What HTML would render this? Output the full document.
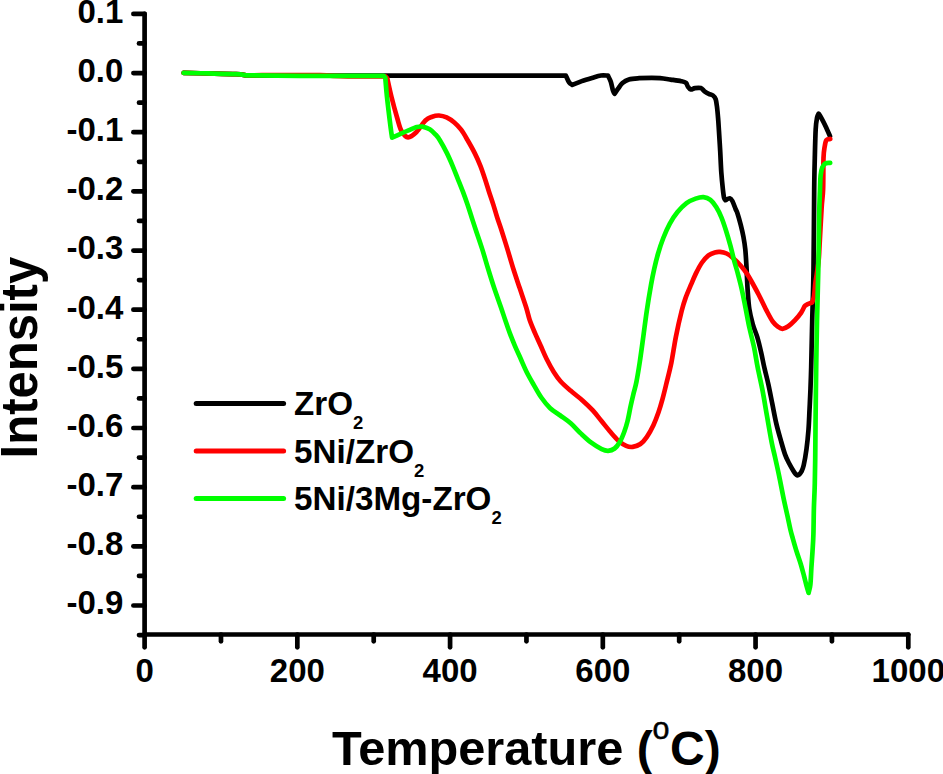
<!DOCTYPE html>
<html lang="en"><head><meta charset="utf-8"><title>TPR profile</title>
<style>
html,body{margin:0;padding:0;background:#fff;}
body{width:943px;height:774px;overflow:hidden;}
svg{display:block;}
</style></head><body>
<svg width="943" height="774" viewBox="0 0 943 774">
<rect width="943" height="774" fill="#fff"/>
<g fill="none" stroke-width="4.70" stroke-linecap="round" stroke-linejoin="round">
<path stroke="#000" d="M183.70,72.90 C187.75,72.98 199.28,73.18 208.00,73.40 C216.72,73.62 229.60,73.87 236.00,74.20 C242.40,74.53 244.67,75.20 246.40,75.40 C255.33,75.43 246.75,75.55 300.00,75.60 C353.25,75.65 521.58,75.68 565.90,75.70 C566.43,76.82 568.03,80.87 569.10,82.40 C570.17,83.93 571.77,84.48 572.30,84.90 C573.88,84.27 578.52,82.27 581.80,81.10 C585.08,79.93 588.82,78.83 592.00,77.90 C595.18,76.97 598.25,75.88 600.90,75.50 C603.55,75.12 606.73,75.58 607.90,75.60 C608.38,76.62 609.95,79.20 610.80,81.70 C611.65,84.20 612.37,88.58 613.00,90.60 C613.63,92.62 614.33,93.27 614.60,93.80 C615.18,92.95 616.78,90.50 618.10,88.70 C619.42,86.90 620.70,84.55 622.50,83.00 C624.30,81.45 626.13,80.20 628.90,79.40 C631.67,78.60 635.28,78.45 639.10,78.20 C642.92,77.95 648.32,77.90 651.80,77.90 C655.28,77.90 656.87,77.92 660.00,78.20 C663.13,78.48 667.07,79.10 670.60,79.60 C674.13,80.10 678.63,80.67 681.20,81.20 C683.77,81.73 684.90,81.92 686.00,82.80 C687.10,83.68 687.00,85.38 687.80,86.50 C688.60,87.62 689.60,89.23 690.80,89.50 C692.00,89.77 693.33,88.33 695.00,88.10 C696.67,87.87 699.22,87.57 700.80,88.10 C702.38,88.63 703.17,90.33 704.50,91.30 C705.83,92.27 707.38,93.20 708.80,93.90 C710.22,94.60 711.85,94.62 713.00,95.50 C714.15,96.38 715.02,97.17 715.70,99.20 C716.38,101.23 716.70,104.52 717.10,107.70 C717.50,110.88 717.80,114.58 718.10,118.30 C718.40,122.02 718.55,124.52 718.90,130.00 C719.25,135.48 719.80,144.13 720.20,151.20 C720.60,158.27 720.85,166.03 721.30,172.40 C721.75,178.77 722.43,185.15 722.90,189.40 C723.37,193.65 723.67,196.10 724.10,197.90 C724.53,199.70 725.27,199.82 725.50,200.20 C726.22,199.88 728.62,198.08 729.80,198.30 C730.98,198.52 731.63,199.72 732.60,201.50 C733.57,203.28 734.78,207.02 735.60,209.00 C736.42,210.98 736.63,210.72 737.50,213.40 C738.37,216.08 739.82,221.22 740.80,225.10 C741.78,228.98 742.65,232.62 743.40,236.70 C744.15,240.78 744.78,244.55 745.30,249.60 C745.82,254.65 746.12,260.37 746.50,267.00 C746.88,273.63 747.13,282.43 747.60,289.40 C748.07,296.37 748.43,302.98 749.30,308.80 C750.17,314.62 751.47,319.57 752.80,324.30 C754.13,329.03 755.90,332.47 757.30,337.20 C758.70,341.93 760.05,347.73 761.20,352.70 C762.35,357.67 763.00,361.72 764.20,367.00 C765.40,372.28 767.05,378.27 768.40,384.40 C769.75,390.53 771.00,397.35 772.30,403.80 C773.60,410.25 774.80,417.08 776.20,423.10 C777.60,429.12 779.22,434.65 780.70,439.90 C782.18,445.15 783.68,450.67 785.10,454.60 C786.52,458.53 787.83,460.82 789.20,463.50 C790.57,466.18 792.25,468.97 793.30,470.70 C794.35,472.43 794.83,473.13 795.50,473.90 C796.17,474.67 796.67,475.22 797.30,475.30 C797.93,475.38 798.63,474.98 799.30,474.40 C799.97,473.82 800.57,473.32 801.30,471.80 C802.03,470.28 802.83,469.10 803.70,465.30 C804.57,461.50 805.70,454.95 806.50,449.00 C807.30,443.05 808.00,436.07 808.50,429.60 C809.00,423.13 809.18,416.67 809.50,410.20 C809.82,403.73 810.12,398.00 810.40,390.80 C810.68,383.60 810.90,378.52 811.20,367.00 C811.50,355.48 811.82,337.87 812.20,321.70 C812.58,305.53 813.17,292.03 813.50,270.00 C813.83,247.97 813.98,208.15 814.20,189.50 C814.42,170.85 814.55,168.17 814.80,158.10 C815.05,148.03 815.32,135.88 815.70,129.10 C816.08,122.32 816.62,119.98 817.10,117.40 C817.58,114.82 818.35,114.23 818.60,113.60 C819.12,114.43 820.50,116.42 821.70,118.60 C822.90,120.78 824.42,123.77 825.80,126.70 C827.18,129.63 829.30,134.62 830.00,136.20"/>
<path stroke="#f00" d="M183.70,72.90 C187.75,72.98 199.28,73.18 208.00,73.40 C216.72,73.62 229.60,73.87 236.00,74.20 C242.40,74.53 244.67,75.20 246.40,75.40 C249.00,75.37 254.73,75.25 262.00,75.20 C269.27,75.15 280.33,75.12 290.00,75.10 C299.67,75.08 313.33,75.00 320.00,75.10 C326.67,75.20 325.33,75.50 330.00,75.70 C334.67,75.90 338.77,76.20 348.00,76.30 C357.23,76.40 379.17,76.30 385.40,76.30 C385.72,76.65 386.98,78.05 387.30,78.40 C388.00,81.50 389.85,90.40 391.50,97.00 C393.15,103.60 395.53,112.33 397.20,118.00 C398.87,123.67 399.68,127.78 401.50,131.00 C403.32,134.22 405.60,137.13 408.10,137.30 C410.60,137.47 413.62,134.80 416.50,132.00 C419.38,129.20 422.78,123.05 425.40,120.50 C428.02,117.95 429.93,117.53 432.20,116.70 C434.47,115.87 436.60,115.38 439.00,115.50 C441.40,115.62 444.05,116.23 446.60,117.40 C449.15,118.57 451.88,120.45 454.30,122.50 C456.72,124.55 458.90,126.78 461.10,129.70 C463.30,132.62 465.25,136.13 467.50,140.00 C469.75,143.87 472.45,148.60 474.60,152.90 C476.75,157.20 478.68,161.48 480.40,165.80 C482.12,170.12 483.47,174.48 484.90,178.80 C486.33,183.12 487.60,187.40 489.00,191.70 C490.40,196.00 491.93,200.30 493.30,204.60 C494.67,208.90 495.83,213.23 497.20,217.50 C498.57,221.77 499.78,224.88 501.50,230.20 C503.22,235.52 505.53,242.97 507.50,249.40 C509.47,255.83 511.27,262.35 513.30,268.80 C515.33,275.25 517.55,281.65 519.70,288.10 C521.85,294.55 524.53,302.18 526.20,307.50 C527.87,312.82 528.25,315.77 529.70,320.00 C531.15,324.23 533.07,328.60 534.90,332.90 C536.73,337.20 538.77,341.48 540.70,345.80 C542.63,350.12 544.35,354.48 546.50,358.80 C548.65,363.12 551.27,367.97 553.60,371.70 C555.93,375.43 557.68,378.05 560.50,381.20 C563.32,384.35 566.83,387.40 570.50,390.60 C574.17,393.80 578.78,397.10 582.50,400.40 C586.22,403.70 589.60,406.92 592.80,410.40 C596.00,413.88 598.72,417.65 601.70,421.30 C604.68,424.95 607.90,429.07 610.70,432.30 C613.50,435.53 615.92,438.43 618.50,440.70 C621.08,442.97 623.83,444.87 626.20,445.90 C628.57,446.93 630.33,447.22 632.70,446.90 C635.07,446.58 638.03,445.68 640.40,444.00 C642.77,442.32 644.73,439.93 646.90,436.80 C649.07,433.67 651.47,429.28 653.40,425.20 C655.33,421.12 657.00,416.60 658.50,412.30 C660.00,408.00 661.08,404.20 662.40,399.40 C663.72,394.60 664.90,389.65 666.40,383.50 C667.90,377.35 669.82,370.30 671.40,362.50 C672.98,354.70 674.18,345.32 675.90,336.70 C677.62,328.08 680.08,317.27 681.70,310.80 C683.32,304.33 684.05,302.25 685.60,297.90 C687.15,293.55 689.23,288.87 691.00,284.70 C692.77,280.53 694.37,276.60 696.20,272.90 C698.03,269.20 699.95,265.42 702.00,262.50 C704.05,259.58 706.35,257.08 708.50,255.40 C710.65,253.72 712.97,252.98 714.90,252.40 C716.83,251.82 718.15,251.72 720.10,251.90 C722.05,252.08 724.45,252.48 726.60,253.50 C728.75,254.52 730.63,255.97 733.00,258.00 C735.37,260.03 738.43,263.02 740.80,265.70 C743.17,268.38 745.50,271.63 747.20,274.10 C748.90,276.57 749.10,277.10 751.00,280.50 C752.90,283.90 756.05,289.57 758.60,294.50 C761.15,299.43 763.93,305.57 766.30,310.10 C768.67,314.63 770.85,318.92 772.80,321.70 C774.75,324.48 776.38,325.62 778.00,326.80 C779.62,327.98 780.78,328.90 782.50,328.80 C784.22,328.70 786.25,327.60 788.30,326.20 C790.35,324.80 792.65,322.67 794.80,320.40 C796.95,318.13 799.58,314.97 801.20,312.60 C802.82,310.23 803.95,307.27 804.50,306.20 C805.03,305.87 806.42,304.85 807.70,304.20 C808.98,303.55 811.45,302.62 812.20,302.30 C812.52,301.22 813.57,299.03 814.10,295.80 C814.63,292.57 814.67,288.53 815.40,282.90 C816.13,277.27 817.80,268.43 818.50,262.00 C819.20,255.57 819.08,253.30 819.60,244.30 C820.12,235.30 821.02,217.13 821.60,208.00 C822.18,198.87 822.78,197.82 823.10,189.50 C823.42,181.18 823.23,165.27 823.50,158.10 C823.77,150.93 824.22,149.50 824.70,146.50 C825.18,143.50 825.48,141.35 826.40,140.10 C827.32,138.85 829.57,139.18 830.20,139.00"/>
<path stroke="#0f0" d="M183.70,72.90 C187.75,72.98 199.28,73.18 208.00,73.40 C216.72,73.62 229.60,73.87 236.00,74.20 C242.40,74.53 244.67,75.20 246.40,75.40 C255.33,75.47 277.13,75.73 300.00,75.80 C322.87,75.87 369.67,75.80 383.60,75.80 C383.88,76.13 385.02,77.47 385.30,77.80 C385.58,81.00 386.10,88.63 387.00,97.00 C387.90,105.37 389.85,121.23 390.70,128.00 C391.55,134.77 391.87,136.00 392.10,137.60 C393.42,137.02 397.27,135.30 400.00,134.10 C402.73,132.90 405.67,131.57 408.50,130.40 C411.33,129.23 414.67,127.73 417.00,127.10 C419.33,126.47 420.38,126.23 422.50,126.60 C424.62,126.97 427.52,127.97 429.70,129.30 C431.88,130.63 433.93,132.82 435.60,134.60 C437.27,136.38 437.83,136.95 439.70,140.00 C441.57,143.05 444.65,148.60 446.80,152.90 C448.95,157.20 450.77,161.48 452.60,165.80 C454.43,170.12 456.08,174.48 457.80,178.80 C459.52,183.12 461.28,187.40 462.90,191.70 C464.52,196.00 466.03,200.30 467.50,204.60 C468.97,208.90 470.32,213.27 471.70,217.50 C473.08,221.73 474.03,224.68 475.80,230.00 C477.57,235.32 480.25,242.93 482.30,249.40 C484.35,255.87 486.12,262.35 488.10,268.80 C490.08,275.25 492.05,281.65 494.20,288.10 C496.35,294.55 499.17,302.18 501.00,307.50 C502.83,312.82 503.75,315.77 505.20,320.00 C506.65,324.23 508.08,328.60 509.70,332.90 C511.32,337.20 513.07,341.48 514.90,345.80 C516.73,350.12 518.77,354.48 520.70,358.80 C522.63,363.12 524.35,367.40 526.50,371.70 C528.65,376.00 531.13,380.30 533.60,384.60 C536.07,388.90 538.53,393.57 541.30,397.50 C544.07,401.43 547.03,405.20 550.20,408.20 C553.37,411.20 556.88,412.98 560.30,415.50 C563.72,418.02 567.25,420.28 570.70,423.30 C574.15,426.32 577.57,430.37 581.00,433.60 C584.43,436.83 587.85,440.12 591.30,442.70 C594.75,445.28 598.90,447.75 601.70,449.10 C604.50,450.45 605.95,450.90 608.10,450.80 C610.25,450.70 612.65,449.97 614.60,448.50 C616.55,447.03 618.18,444.80 619.80,442.00 C621.42,439.20 623.02,435.15 624.30,431.70 C625.58,428.25 626.43,425.62 627.50,421.30 C628.57,416.98 629.67,410.53 630.70,405.80 C631.73,401.07 632.75,396.87 633.70,392.90 C634.65,388.93 635.40,387.07 636.40,382.00 C637.40,376.93 638.55,370.05 639.70,362.50 C640.85,354.95 642.12,345.32 643.30,336.70 C644.48,328.08 645.52,319.42 646.80,310.80 C648.08,302.18 649.77,291.97 651.00,285.00 C652.23,278.03 653.02,274.25 654.20,269.00 C655.38,263.75 656.58,258.67 658.10,253.50 C659.62,248.33 661.37,242.95 663.30,238.00 C665.23,233.05 667.33,228.12 669.70,223.80 C672.07,219.48 674.70,215.55 677.50,212.10 C680.30,208.65 683.48,205.35 686.50,203.10 C689.52,200.85 692.77,199.60 695.60,198.60 C698.43,197.60 701.03,196.88 703.50,197.10 C705.97,197.32 708.28,198.25 710.40,199.90 C712.52,201.55 714.37,204.10 716.20,207.00 C718.03,209.90 719.78,213.43 721.40,217.30 C723.02,221.17 724.40,225.47 725.90,230.20 C727.40,234.93 729.00,240.53 730.40,245.70 C731.80,250.87 733.13,256.82 734.30,261.20 C735.47,265.58 736.15,267.30 737.40,272.00 C738.65,276.70 740.42,283.27 741.80,289.40 C743.18,295.53 744.42,302.35 745.70,308.80 C746.98,315.25 748.10,321.65 749.50,328.10 C750.90,334.55 752.75,341.02 754.10,347.50 C755.45,353.98 756.18,359.78 757.60,367.00 C759.02,374.22 761.02,382.52 762.60,390.80 C764.18,399.08 765.58,408.08 767.10,416.70 C768.62,425.32 770.38,435.78 771.70,442.50 C773.02,449.22 773.75,451.38 775.00,457.00 C776.25,462.62 777.80,469.47 779.20,476.20 C780.60,482.93 782.00,490.68 783.40,497.40 C784.80,504.12 786.42,511.07 787.60,516.50 C788.78,521.93 789.62,526.28 790.50,530.00 C791.38,533.72 791.88,535.22 792.90,538.80 C793.92,542.38 795.28,547.27 796.60,551.50 C797.92,555.73 799.57,560.13 800.80,564.20 C802.03,568.27 803.02,572.18 804.00,575.90 C804.98,579.62 805.93,583.67 806.70,586.50 C807.47,589.33 808.28,591.83 808.60,592.90 C808.90,591.48 809.93,588.65 810.40,584.40 C810.87,580.15 811.05,572.88 811.40,567.40 C811.75,561.92 812.17,556.98 812.50,551.50 C812.83,546.02 813.17,541.75 813.40,534.50 C813.63,527.25 813.68,515.95 813.90,508.00 C814.12,500.05 814.48,494.80 814.70,486.80 C814.92,478.80 815.05,471.68 815.20,460.00 C815.35,448.32 815.43,432.20 815.60,416.70 C815.77,401.20 815.97,382.83 816.20,367.00 C816.43,351.17 816.65,337.87 817.00,321.70 C817.35,305.53 817.93,287.78 818.30,270.00 C818.67,252.22 818.92,228.42 819.20,215.00 C819.48,201.58 819.77,196.07 820.00,189.50 C820.23,182.93 820.22,179.28 820.60,175.60 C820.98,171.92 821.48,169.43 822.30,167.40 C823.12,165.37 824.18,164.15 825.50,163.40 C826.82,162.65 829.42,162.98 830.20,162.90"/>
</g>
<g stroke="#000" stroke-width="4.70" stroke-linecap="round" fill="none">
<path d="M144.60,13.89 V634.50"/>
<path d="M144.60,634.50 H908.30"/>
<path d="M144.60,13.89 H133.40"/>
<path d="M144.60,43.47 H139.00"/>
<path d="M144.60,73.05 H133.40"/>
<path d="M144.60,102.63 H139.00"/>
<path d="M144.60,132.21 H133.40"/>
<path d="M144.60,161.79 H139.00"/>
<path d="M144.60,191.37 H133.40"/>
<path d="M144.60,220.95 H139.00"/>
<path d="M144.60,250.53 H133.40"/>
<path d="M144.60,280.11 H139.00"/>
<path d="M144.60,309.69 H133.40"/>
<path d="M144.60,339.27 H139.00"/>
<path d="M144.60,368.85 H133.40"/>
<path d="M144.60,398.43 H139.00"/>
<path d="M144.60,428.01 H133.40"/>
<path d="M144.60,457.59 H139.00"/>
<path d="M144.60,487.17 H133.40"/>
<path d="M144.60,516.75 H139.00"/>
<path d="M144.60,546.33 H133.40"/>
<path d="M144.60,575.91 H139.00"/>
<path d="M144.60,605.49 H133.40"/>
<path d="M144.60,635.07 H139.00"/>
<path d="M144.60,634.50 V647.30"/>
<path d="M220.97,634.50 V641.30"/>
<path d="M297.34,634.50 V647.30"/>
<path d="M373.71,634.50 V641.30"/>
<path d="M450.08,634.50 V647.30"/>
<path d="M526.45,634.50 V641.30"/>
<path d="M602.82,634.50 V647.30"/>
<path d="M679.19,634.50 V641.30"/>
<path d="M755.56,634.50 V647.30"/>
<path d="M831.93,634.50 V641.30"/>
<path d="M908.30,634.50 V647.30"/>
</g>
<g font-family="'Liberation Sans', Arial, Helvetica, sans-serif" font-weight="bold" fill="#000">
<g font-size="33px" text-anchor="end">
<text x="123.4" y="22.79">0.1</text>
<text x="123.4" y="81.95">0.0</text>
<text x="123.4" y="141.11">-0.1</text>
<text x="123.4" y="200.27">-0.2</text>
<text x="123.4" y="259.43">-0.3</text>
<text x="123.4" y="318.59">-0.4</text>
<text x="123.4" y="377.75">-0.5</text>
<text x="123.4" y="436.91">-0.6</text>
<text x="123.4" y="496.07">-0.7</text>
<text x="123.4" y="555.23">-0.8</text>
<text x="123.4" y="614.39">-0.9</text>
</g>
<g font-size="33px" text-anchor="middle">
<text x="144.60" y="682.3">0</text>
<text x="297.34" y="682.3">200</text>
<text x="450.08" y="682.3">400</text>
<text x="602.82" y="682.3">600</text>
<text x="755.56" y="682.3">800</text>
<text x="908.30" y="682.3">1000</text>
</g>
<text font-size="48.7px" x="332" y="764.5">Temperature <tspan font-size="48px">(</tspan><tspan font-size="30.5px" font-weight="normal" stroke="#000" stroke-width="0.5" dx="-0.3" dy="-25.6">o</tspan><tspan font-size="48px" dx="0.6" dy="25.6">C)</tspan></text>
<text font-size="51.5px" transform="translate(37.3,458.4) rotate(-90) scale(0.952,1)">Intensity</text>
<g font-size="33.2px">
<text x="294.1" y="415">ZrO<tspan font-size="18.5px" dy="14.1">2</tspan></text>
<text x="294.1" y="462.6">5Ni/ZrO<tspan font-size="18.5px" dy="14.1">2</tspan></text>
<text x="294.1" y="510">5Ni/3Mg-ZrO<tspan font-size="18.5px" dy="14.1">2</tspan></text>
</g>
</g>
<g fill="none" stroke-width="5" stroke-linecap="round">
<path stroke="#000" d="M196.2,403.5 H283.6"/>
<path stroke="#f00" d="M196.2,451 H283.6"/>
<path stroke="#0f0" d="M196.2,498.4 H283.6"/>
</g>
</svg>
</body></html>
